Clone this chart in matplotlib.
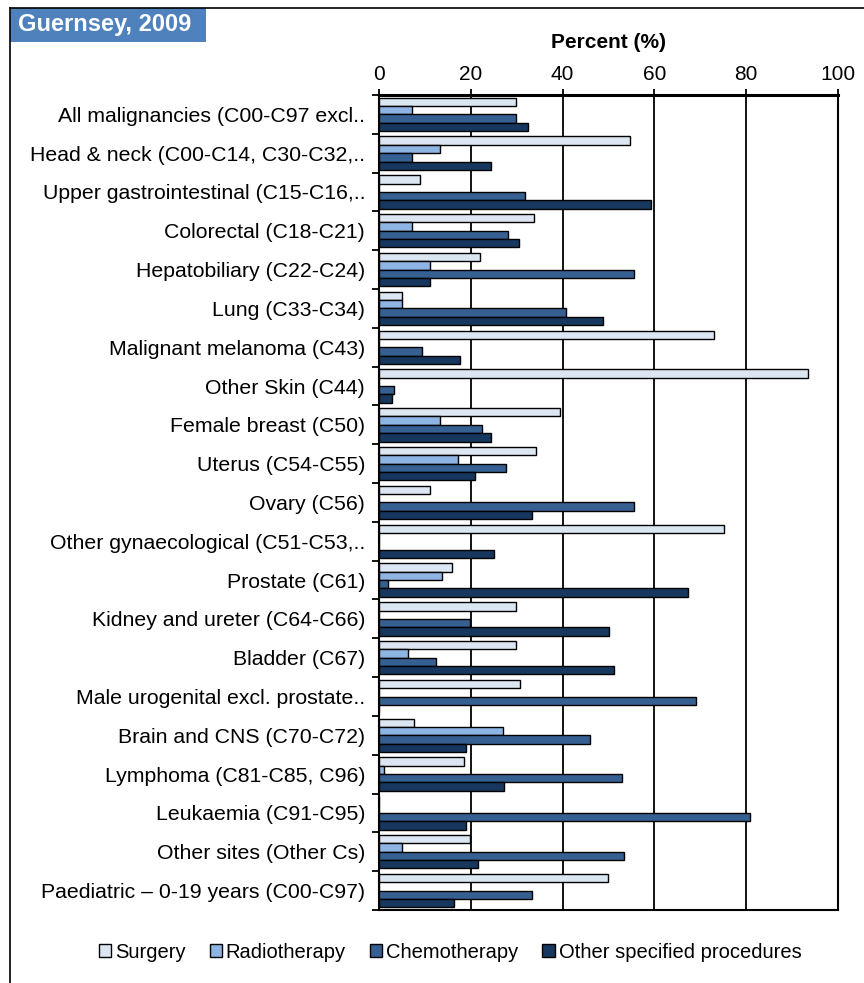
import numpy as np
import matplotlib.pyplot as plt
from matplotlib.lines import Line2D
from matplotlib.patches import Patch, Rectangle

plt.rcParams['font.family'] = ['Liberation Sans', 'DejaVu Sans']

categories = [
    'All malignancies (C00-C97 excl..',
    'Head & neck (C00-C14, C30-C32,..',
    'Upper gastrointestinal (C15-C16,..',
    'Colorectal (C18-C21)',
    'Hepatobiliary (C22-C24)',
    'Lung (C33-C34)',
    'Malignant melanoma (C43)',
    'Other Skin (C44)',
    'Female breast (C50)',
    'Uterus (C54-C55)',
    'Ovary (C56)',
    'Other gynaecological (C51-C53,..',
    'Prostate (C61)',
    'Kidney and ureter (C64-C66)',
    'Bladder (C67)',
    'Male urogenital excl. prostate..',
    'Brain and CNS (C70-C72)',
    'Lymphoma (C81-C85, C96)',
    'Leukaemia (C91-C95)',
    'Other sites (Other Cs)',
    'Paediatric \u2013 0-19 years (C00-C97)',
]
surgery = [29.8, 54.7, 8.9, 33.7, 22.0, 4.9, 73.0, 93.4, 39.4, 34.3, 11.1,
           75.2, 15.9, 29.8, 29.8, 30.8, 7.6, 18.5, 0.0, 19.8, 49.9]
radiotherapy = [7.1, 13.3, 0.0, 7.1, 11.1, 4.9, 0.0, 0.0, 13.3, 17.3, 0.0,
                0.0, 13.8, 0.0, 6.3, 0.0, 26.9, 1.1, 0.0, 4.9, 0.0]
chemotherapy = [29.8, 7.2, 31.7, 28.2, 55.6, 40.7, 9.4, 3.3, 22.4, 27.7, 55.6,
                0.0, 1.9, 19.9, 12.4, 69.1, 46.0, 52.9, 80.8, 53.4, 33.3]
other_proc = [32.5, 24.3, 59.2, 30.4, 11.1, 48.7, 17.7, 2.9, 24.3, 20.8, 33.3,
              25.1, 67.4, 50.0, 51.2, 0.0, 19.0, 27.3, 19.0, 21.6, 16.3]

series = [surgery, radiotherapy, chemotherapy, other_proc]
names = ['Surgery', 'Radiotherapy', 'Chemotherapy', 'Other specified procedures']
colors = ['#DCE6F2', '#8EB4E3', '#376092', '#17375E']

fig = plt.figure(figsize=(8.64, 9.83), dpi=100)
ax = fig.add_axes([0.4387, 0.0743, 0.5313, 0.8291])

y = np.arange(len(categories))
h = 0.215
for i, (vals, nm, col) in enumerate(zip(series, names, colors)):
    ax.barh(y + (i - 1.5) * h, vals, height=h, color=col, edgecolor='black',
            linewidth=1.0, label=nm, zorder=3)

ax.set_xlim(0, 100)
ax.set_ylim(len(categories) - 0.5, -0.5)
ax.set_xticks([0, 20, 40, 60, 80, 100])
ax.xaxis.tick_top()
ax.xaxis.set_label_position('top')
ax.tick_params(axis='x', length=4, width=1.3, direction='out', labelsize=15, pad=4)
ax.set_xlabel('Percent (%)', fontsize=15, fontweight='bold', labelpad=12)
ax.grid(axis='x', color='black', linewidth=1.3, zorder=1)

ax.set_yticks(y)
ax.set_yticklabels(categories, fontsize=15.3)
ax.set_yticks(np.arange(len(categories) + 1) - 0.5, minor=True)
ax.tick_params(axis='y', which='major', length=0, pad=10)
ax.tick_params(axis='y', which='minor', length=5, width=1.3, direction='out')
for sp in ax.spines.values():
    sp.set_linewidth(1.5)
ax.spines['top'].set_linewidth(2.2)

# outer frame
fig.add_artist(Line2D([10 / 864, 10 / 864], [0, 1 - 8 / 983], color='black', lw=1.2))
fig.add_artist(Line2D([10 / 864, 1], [1 - 8 / 983, 1 - 8 / 983], color='black', lw=1.2))

fig.add_artist(Rectangle((10 / 864, 1 - 42 / 983), 196 / 864, 34 / 983,
                         transform=fig.transFigure, facecolor='#4F81BD',
                         edgecolor='none'))
fig.text(18 / 864, 1 - 25 / 983, 'Guernsey, 2009', fontsize=17, fontweight='bold',
         color='white', va='center', ha='left')

handles = [Patch(facecolor=c, edgecolor='black', linewidth=1.0, label=n)
           for c, n in zip(colors, names)]
fig.legend(handles=handles, loc='center', bbox_to_anchor=(450 / 864, 1 - 952 / 983),
           ncol=4, frameon=False, fontsize=14.5, handlelength=0.6, handleheight=0.6,
           handletextpad=0.2, columnspacing=1.2)

plt.savefig('out.png', dpi=100)
plt.close()
